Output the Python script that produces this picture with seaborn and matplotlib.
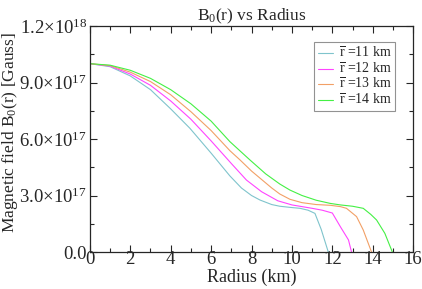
import numpy as np
import pandas as pd
import seaborn as sns
import matplotlib
matplotlib.use("Agg")
import matplotlib.pyplot as plt
from matplotlib.ticker import MultipleLocator, FuncFormatter

# values, B in units of 1e17 Gauss
r_11 = [0, 1, 2, 3, 4, 4.95, 6, 6.93, 7.5, 8, 8.42, 9, 9.4, 10, 10.4, 10.8, 11.14, 11.45, 11.8]
b_11 = [10.0, 9.84, 9.35, 8.62, 7.6, 6.57, 5.25, 4.04, 3.4, 3.0, 2.76, 2.52, 2.43, 2.36, 2.32, 2.22, 2.05, 1.2, 0.0]

r_12 = [0, 1, 2, 3, 4, 5, 6, 7, 7.75, 8.5, 9.3, 10, 11, 11.5, 12.0, 12.4, 12.8, 12.95]
b_12 = [10.0, 9.87, 9.45, 8.85, 8.02, 7.05, 5.9, 4.7, 3.82, 3.2, 2.72, 2.5, 2.32, 2.22, 2.07, 1.34, 0.64, 0.0]

r_13 = [0, 1, 2, 3, 4, 5, 6, 6.93, 7.43, 8, 9, 9.4, 9.9, 10.5, 11.2, 11.9, 12.4, 12.7, 13.2, 13.53, 13.94]
b_13 = [10.0, 9.9, 9.55, 9.05, 8.35, 7.45, 6.45, 5.38, 4.89, 4.3, 3.4, 3.08, 2.8, 2.62, 2.52, 2.48, 2.41, 2.32, 1.88, 1.17, 0.0]

r_14 = [0, 1, 2, 3, 4, 5, 6, 6.93, 7.92, 8.7, 9.4, 9.9, 10.5, 11.2, 11.9, 12.4, 13.0, 13.53, 13.9, 14.19, 14.6, 14.97]
b_14 = [10.0, 9.92, 9.65, 9.22, 8.62, 7.87, 6.95, 5.86, 4.89, 4.15, 3.61, 3.29, 3.0, 2.75, 2.58, 2.5, 2.43, 2.32, 2.0, 1.7, 0.99, 0.0]

labels = [r"$\overline{\rm r}$ =11 km", r"$\overline{\rm r}$ =12 km",
          r"$\overline{\rm r}$ =13 km", r"$\overline{\rm r}$ =14 km"]
colors = ["#7fc4cc", "#ff44ff", "#f2a066", "#44f044"]

frames = []
for lab, rr, bb in zip(labels, [r_11, r_12, r_13, r_14], [b_11, b_12, b_13, b_14]):
    frames.append(pd.DataFrame({"r": rr, "B": np.array(bb) * 1e17, "series": lab}))
df = pd.concat(frames, ignore_index=True)

sns.set_style("ticks")
plt.rcParams["font.family"] = ["Liberation Serif", "DejaVu Serif"]
plt.rcParams["mathtext.fontset"] = "custom"
plt.rcParams["mathtext.rm"] = "Liberation Serif"
plt.rcParams["mathtext.it"] = "Liberation Serif:italic"

fig = plt.figure(figsize=(4.22, 2.89), dpi=100)
ax = fig.add_axes([0.213, 0.128, 0.766, 0.782])

sns.lineplot(data=df, x="r", y="B", hue="series", palette=colors, sort=False,
             estimator=None, linewidth=0.8, ax=ax)

ax.set_xlim(0, 16)
ax.set_ylim(0, 1.2e18)
ax.xaxis.set_major_locator(MultipleLocator(2))
ax.xaxis.set_minor_locator(MultipleLocator(1))
ax.yaxis.set_major_locator(MultipleLocator(3e17))
ax.yaxis.set_minor_locator(MultipleLocator(1.5e17))


def yfmt(v, pos):
    if v < 1:
        return "0.0" if abs(v) < 1 else ""
    e = int(np.floor(np.log10(v)))
    return r"%.1f$\times$10$^{%d}$" % (v / 10 ** e, e)


ax.yaxis.set_major_formatter(FuncFormatter(yfmt))
ax.tick_params(which="both", direction="in", top=True, right=True, labelsize=13.5)
ax.tick_params(axis="y", pad=2)
ax.tick_params(axis="x", pad=-1)
ax.tick_params(which="major", length=5, width=0.8)
ax.tick_params(which="minor", length=3, width=0.8)
for s in ax.spines.values():
    s.set_linewidth(0.9)

ax.set_xlabel("Radius (km)", fontsize=13)
ax.xaxis.set_label_coords(0.5, -0.072)
ax.set_ylabel(r"Magnetic field B$_0$(r) [Gauss]", fontsize=12.5)
ax.yaxis.set_label_coords(-0.215, 0.53)
ax.set_title(r"B$_0$(r) vs Radius", fontsize=12.5, pad=4)

leg = ax.legend(loc="upper right", bbox_to_anchor=(0.944, 0.929), fontsize=10,
                frameon=True, fancybox=False, handlelength=1.1, borderpad=0.25,
                labelspacing=0.02, handletextpad=0.4, borderaxespad=0)
leg.get_frame().set_edgecolor("#777777")
leg.get_frame().set_linewidth(0.8)

fig.savefig("out.png", dpi=100)
